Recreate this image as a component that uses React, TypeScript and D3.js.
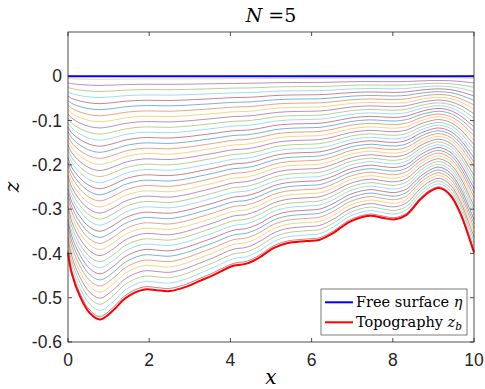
import React from 'react';
import * as d3 from 'd3';

// topography z_b(x)
const topoX = [0, 0.09, 0.3, 0.54, 0.79, 1.12, 1.36, 1.53, 1.77, 1.94, 2.18, 2.51, 2.92, 3.25, 3.58, 4.07, 4.4, 4.7, 5.06, 5.39, 5.88, 6.2, 6.53, 6.95, 7.44, 7.77, 8.05, 8.34, 8.67, 8.92, 9.14, 9.41, 9.66, 9.9, 10];
const topoZ = [-0.398, -0.444, -0.498, -0.535, -0.549, -0.528, -0.505, -0.494, -0.484, -0.481, -0.483, -0.485, -0.475, -0.462, -0.449, -0.428, -0.423, -0.41, -0.388, -0.377, -0.372, -0.369, -0.354, -0.328, -0.315, -0.32, -0.323, -0.313, -0.279, -0.26, -0.2525, -0.268, -0.309, -0.37, -0.398];
const surfaceZ = 0;
const layerCount = 40;

const lineColors = ['#0072BD', '#D95319', '#EDB120', '#7E2F8E', '#77AC30', '#4DBEEE', '#A2142F'];
const xTicks = [0, 2, 4, 6, 8, 10];
const yTicks = [-0.6, -0.5, -0.4, -0.3, -0.2, -0.1, 0];
const legendLabels = ['Free surface ', 'Topography '];

const W = 485;
const H = 389;
const margin = { top: 32, right: 11, bottom: 47, left: 68 };
const axisColor = '#262626';
const serif = "'DejaVu Serif', 'Liberation Serif', serif";
const sans = "'Liberation Sans', Arial, sans-serif";

export default function App() {
  const x = d3.scaleLinear().domain([0, 10]).range([margin.left, W - margin.right]);
  const y = d3.scaleLinear().domain([-0.6, 0.1]).range([H - margin.bottom, margin.top]);

  const line = d3.line<[number, number]>()
    .x(d => x(d[0]))
    .y(d => y(d[1]))
    .curve(d3.curveCatmullRom.alpha(0.5));

  const topo: [number, number][] = topoX.map((v, i) => [v, topoZ[i]]);
  const surface: [number, number][] = [[0, surfaceZ], [10, surfaceZ]];

  // sigma layers (cell centres) between surface and bottom
  const layers = d3.range(layerCount).map(k => {
    const f = (k + 0.5) / layerCount;
    return topo.map(([xv, zb]) => [xv, surfaceZ + f * (zb - surfaceZ)] as [number, number]);
  });

  const x0 = margin.left, x1 = W - margin.right;
  const y0 = margin.top, y1 = H - margin.bottom;
  const tick = 4;

  return (
    <svg width={W} height={H} style={{ position: 'absolute', left: 0, top: 0, background: '#fff' }}>
      <rect x={0} y={0} width={W} height={H} fill="#fff" />

      {layers.map((pts, k) => (
        <path key={k} d={line(pts) || ''} fill="none"
          stroke={lineColors[(k + 2) % lineColors.length]} strokeWidth={0.9} strokeOpacity={0.6} />
      ))}

      <path d={line(surface) || ''} fill="none" stroke="#0000ff" strokeWidth={2} />
      <path d={line(topo) || ''} fill="none" stroke="#ff0000" strokeWidth={2} />

      {/* box + ticks */}
      <rect x={x0} y={y0} width={x1 - x0} height={y1 - y0} fill="none" stroke={axisColor} strokeWidth={0.8} />
      {xTicks.map(t => (
        <g key={'x' + t}>
          <line x1={x(t)} x2={x(t)} y1={y1} y2={y1 - tick} stroke={axisColor} strokeWidth={0.8} />
          <line x1={x(t)} x2={x(t)} y1={y0} y2={y0 + tick} stroke={axisColor} strokeWidth={0.8} />
          <text x={x(t)} y={366} textAnchor="middle" fontFamily={sans}
            fontSize={17.5} fill={axisColor}>{String(t)}</text>
        </g>
      ))}
      {yTicks.map(t => (
        <g key={'y' + t}>
          <line x1={x0} x2={x0 + tick} y1={y(t)} y2={y(t)} stroke={axisColor} strokeWidth={0.8} />
          <line x1={x1} x2={x1 - tick} y1={y(t)} y2={y(t)} stroke={axisColor} strokeWidth={0.8} />
          <text x={62} y={y(t) + 6.2} textAnchor="end" fontFamily={sans}
            fontSize={17.5} fill={axisColor}>{String(t)}</text>
        </g>
      ))}

      {/* title and labels */}
      <text x={(x0 + x1) / 2} y={22} textAnchor="middle" fontFamily={serif} fontSize={19} fill="#000">
        <tspan fontStyle="italic">N</tspan> =5
      </text>
      <text x={(x0 + x1) / 2} y={384} textAnchor="middle" fontFamily={serif}
        fontStyle="italic" fontSize={20} fill="#000">x</text>
      <text transform={`translate(19, ${(y0 + y1) / 2}) rotate(-90)`} textAnchor="middle"
        fontFamily={serif} fontStyle="italic" fontSize={20} fill="#000">z</text>

      {/* legend */}
      <g>
        <rect x={321} y={289} width={146} height={46} fill="#fff" stroke={axisColor} strokeWidth={0.6} />
        {legendLabels.map((lab, i) => {
          const ly = 302.3 + i * 20;
          return (
            <g key={lab}>
              <line x1={325} x2={353} y1={ly} y2={ly} stroke={i === 0 ? '#0000ff' : '#ff0000'} strokeWidth={2} />
              <text x={356} y={ly + 5} fontFamily={serif} fontSize={14.5} fill="#000">
                {lab}
                {i === 0
                  ? <tspan fontStyle="italic">η</tspan>
                  : <><tspan fontStyle="italic">z</tspan><tspan fontStyle="italic" fontSize={10.5} dy={3}>b</tspan></>}
              </text>
            </g>
          );
        })}
      </g>
    </svg>
  );
}
